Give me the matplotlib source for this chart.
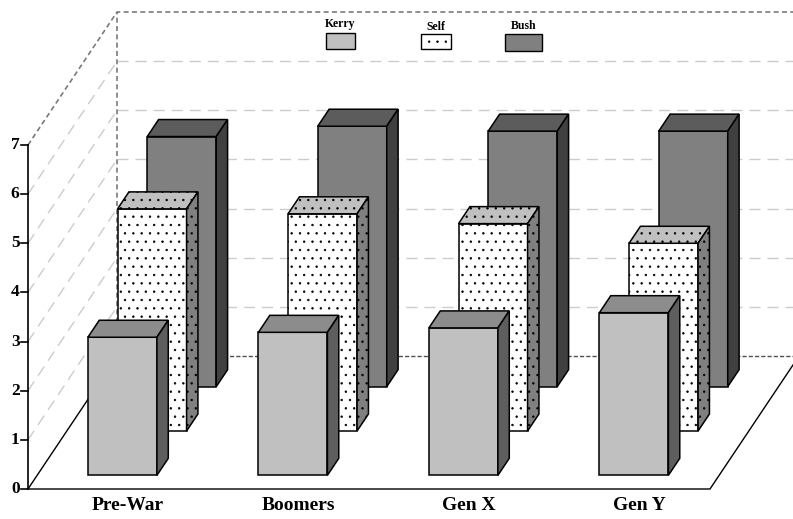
import matplotlib
matplotlib.use("Agg")
import matplotlib.pyplot as plt
from matplotlib.patches import Polygon, Rectangle

# ---- data -------------------------------------------------------------
categories = ["Pre-War", "Boomers", "Gen X", "Gen Y"]
series_names = ["Kerry", "Self", "Bush"]
kerry = [2.81, 2.91, 3.00, 3.31]
self_place = [4.52, 4.42, 4.22, 3.82]
bush = [5.09, 5.30, 5.20, 5.20]
y_ticks = [0, 1, 2, 3, 4, 5, 6, 7]

series_values = [kerry, self_place, bush]

# ---- styling ----------------------------------------------------------
plt.rcParams["font.family"] = ["Liberation Serif", "DejaVu Serif"]
plt.rcParams["font.weight"] = "bold"
plt.rcParams["hatch.linewidth"] = 0.5
plt.rcParams["hatch.color"] = "#3a3a3a"

# (front, top, side, hatch) per series
styles = [
    ("#c0c0c0", "#8c8c8c", "#5e5e5e", None),
    ("#ffffff", "#c0c0c0", "#808080", ".."),
    ("#808080", "#5c5c5c", "#404040", None),
]

W, H, DPI = 793, 519, 100
fig = plt.figure(figsize=(W / DPI, H / DPI), dpi=DPI)
ax = fig.add_axes([0, 0, 1, 1])

# front plane: x in group units, y in value units
X0_PX, Y0_PX = 28.0, 489.0        # origin (group 0, value 0) in pixels
GX_PX, VY_PX = 170.5, 49.14       # pixels per group / per value unit
ax.set_xlim(-X0_PX / GX_PX, (W - X0_PX) / GX_PX)
ax.set_ylim((Y0_PX - H) / VY_PX, Y0_PX / VY_PX)
ax.axis("off")

# oblique depth offset for the full floor depth (group units, value units)
DX, DY = 89.0 / GX_PX, 133.0 / VY_PX
N_GROUPS = len(categories)
VMAX = y_ticks[-1]


def proj(x, d, v):
    return (x + DX * d, v + DY * d)


def px(x, y):
    """pixel position -> data coordinates"""
    return ((x - X0_PX) / GX_PX, (Y0_PX - y) / VY_PX)


# ---- walls and floor --------------------------------------------------
far_x = N_GROUPS + 1.0
for v in y_ticks[1:-1]:
    # back wall gridline
    xs, ys = zip(proj(0, 1, v), proj(far_x, 1, v))
    ax.plot(xs, ys, color="#cccccc", lw=1.0, dashes=(8, 5), zorder=1)
    # side wall gridline
    xs, ys = zip(proj(0, 0, v), proj(0, 1, v))
    ax.plot(xs, ys, color="#cccccc", lw=1.0, dashes=(8, 5), zorder=1)

# dotted outline of the back box
edge_kw = dict(color="#7a7a7a", lw=1.2, dashes=(3, 2), zorder=1)
xs, ys = zip(proj(0, 0, VMAX), proj(0, 1, VMAX), proj(far_x, 1, VMAX))
ax.plot(xs, ys, **edge_kw)
xs, ys = zip(proj(0, 1, 0), proj(0, 1, VMAX))
ax.plot(xs, ys, **edge_kw)
xs, ys = zip(proj(0, 1, 0), proj(far_x, 1, 0))
ax.plot(xs, ys, color="#505050", lw=1.0, dashes=(3, 1.5), zorder=1)

# floor outline
floor = [proj(N_GROUPS, 1.3, 0), proj(N_GROUPS, 0, 0), proj(0, 0, 0), proj(0, 1, 0)]
xs, ys = zip(*floor)
ax.plot(xs, ys, color="black", lw=1.0, zorder=1, solid_joinstyle="miter")

# value axis
xs, ys = zip(proj(0, 0, 0), proj(0, 0, VMAX))
ax.plot(xs, ys, color="black", lw=1.2, zorder=2)
tick_len = 7.0 / GX_PX
for v in y_ticks:
    ax.plot([-tick_len, 0], [v, v], color="black", lw=1.2, zorder=2)
    ax.text(-tick_len - 1.5 / GX_PX, v, str(v), ha="right", va="center",
            fontsize=12.5, fontweight="bold")

# ---- bars ------------------------------------------------------------
half_w = 69.0 / GX_PX / 2
bar_depth = 17.0 / 133.0
n_rows = len(series_values)

for s in reversed(range(n_rows)):
    front_c, top_c, side_c, hatch = styles[s]
    d0 = (s + 0.5) / n_rows - bar_depth / 2
    d1 = d0 + bar_depth
    for i, v in enumerate(series_values[s]):
        x0, x1 = i + 0.5 - half_w, i + 0.5 + half_w
        z = 10 + (n_rows - s) * 10
        faces = [
            ([proj(x0, d0, 0), proj(x1, d0, 0), proj(x1, d0, v), proj(x0, d0, v)], front_c),
            ([proj(x0, d0, v), proj(x1, d0, v), proj(x1, d1, v), proj(x0, d1, v)], top_c),
            ([proj(x1, d0, 0), proj(x1, d1, 0), proj(x1, d1, v), proj(x1, d0, v)], side_c),
        ]
        for pts, c in faces:
            ax.add_patch(Polygon(pts, closed=True, facecolor=c, edgecolor="black",
                                 lw=1.1, hatch=hatch, joinstyle="miter", zorder=z))

# category labels centred under the front bars
d_front = 0.5 / n_rows
for i, name in enumerate(categories):
    cx, _ = proj(i + 0.5, d_front, 0)
    ax.text(cx, px(0, 505)[1], name, ha="center", va="center",
            fontsize=14, fontweight="bold")

# ---- legend ----------------------------------------------------------
legend_boxes = [(326, 33, 29, 16), (421, 34, 30, 15), (505, 34, 37, 17)]
legend_text_y = [24, 27, 26]
for s, name in enumerate(series_names):
    bx, by, bw, bh = legend_boxes[s]
    x0, y0 = px(bx, by + bh)
    x1, y1 = px(bx + bw, by)
    front_c, _, _, hatch = styles[s]
    ax.add_patch(Rectangle((x0, y0), x1 - x0, y1 - y0, facecolor=front_c,
                           edgecolor="black", lw=1.0, hatch=hatch, zorder=50))
    tx, ty = px(bx + bw / 2, legend_text_y[s])
    ax.text(tx, ty, name, ha="center", va="center", fontsize=8.5,
            fontweight="bold", zorder=50)

fig.savefig("out.png", dpi=DPI)
